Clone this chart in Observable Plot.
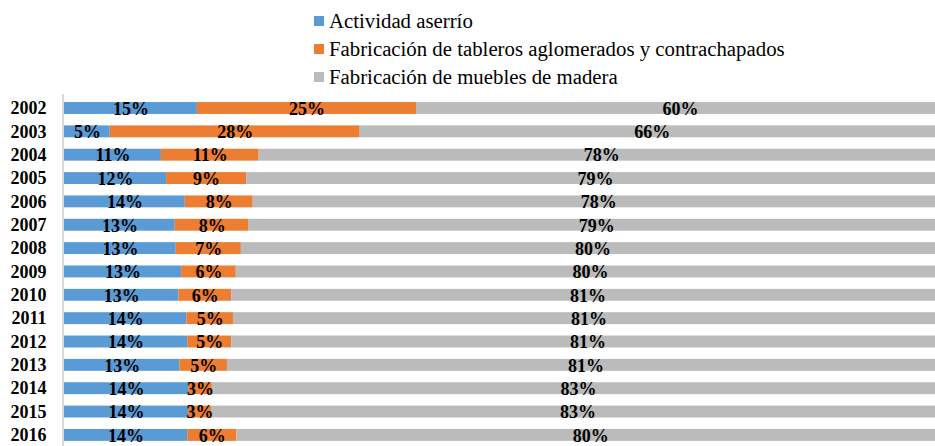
<!DOCTYPE html>
<html><head><meta charset="utf-8">
<script src="https://cdn.jsdelivr.net/npm/d3@7"></script>
<script src="https://cdn.jsdelivr.net/npm/@observablehq/plot@0.6"></script>
<style>
html,body{margin:0;padding:0;background:#fff;overflow:hidden;width:935px;height:446px;}
#legend{height:92px;box-sizing:border-box;padding:7px 0 0 314px;font-family:"Liberation Serif","Times New Roman",serif;font-size:20.8px;color:#000;}
.row{height:28px;display:flex;align-items:center;white-space:nowrap;}
.sw{width:10px;height:10px;margin-right:5px;display:inline-block;flex:none;}
</style></head><body>
<div id="legend"></div><div id="chart"></div>
<script>
const years = ["2002","2003","2004","2005","2006","2007","2008","2009","2010","2011","2012","2013","2014","2015","2016"];
const seriesNames = ["Actividad aserrío","Fabricación de tableros aglomerados y contrachapados","Fabricación de muebles de madera"];
const colors = ["#5b9bd5","#ed7d31","#bbbbbb"];
const aserrio  = [15.1, 5.2, 11.0, 11.6, 13.7, 12.6, 12.7, 13.3, 13.0, 13.9, 14.0, 13.1, 14.1, 14.1, 14.0];
const tableros = [24.9, 28.4, 11.1, 9.1, 7.7, 8.4, 7.4, 6.2, 6.0, 5.3, 5.0, 5.4, 2.7, 2.6, 5.6];
const muebles  = [60.0, 66.4, 77.8, 79.3, 78.4, 79.1, 79.9, 80.4, 81.0, 80.8, 81.0, 81.4, 83.2, 83.3, 80.4];

const seriesValues = [aserrio, tableros, muebles];
const data = [];
years.forEach((y, i) => seriesValues.forEach((vals, s) => data.push({year: y, series: seriesNames[s], value: vals[i]})));

const legend = document.getElementById("legend");
seriesNames.forEach((n, i) => {
  const r = document.createElement("div"); r.className = "row";
  const sw = document.createElement("span"); sw.className = "sw"; sw.style.background = colors[i];
  r.appendChild(sw); r.appendChild(document.createTextNode(n));
  legend.appendChild(r);
});

const stackOpts = {x: "value", y: "year", z: "series", offset: "normalize", order: null};
const chart = Plot.plot({
  width: 935,
  height: 354,
  marginLeft: 63,
  marginRight: 0,
  marginTop: 2,
  marginBottom: 0,
  style: {fontFamily: '"Liberation Serif","Times New Roman",serif', background: "#fff", overflow: "hidden"},
  x: {domain: [0, 1], range: [64, 944], axis: null},
  y: {domain: years, range: [4.325, 354.575], paddingInner: 0.49, paddingOuter: 0.245, round: false, axis: null},
  color: {domain: seriesNames, range: colors},
  marks: [
    Plot.barX(data, Plot.stackX({...stackOpts, fill: "series"})),
    Plot.ruleX([0], {dx: -1.5, stroke: "#d9d9d9", strokeWidth: 2}),
    Plot.text(data, Plot.stackX({...stackOpts, text: d => Math.round(d.value) + "%", fontSize: 18, fontWeight: "bold", fill: "#000", dy: 0.5})),
    Plot.axisY({anchor: "left", tickSize: 0, tickPadding: 17, fontSize: 18, fontWeight: "bold", label: null, color: "#000"})
  ]
});
document.getElementById("chart").appendChild(chart);
</script>
</body></html>
